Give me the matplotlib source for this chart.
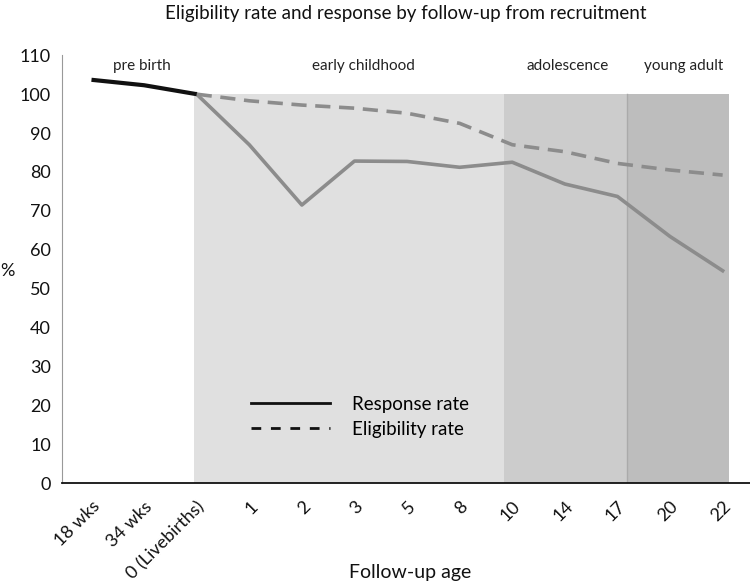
import numpy as np
import matplotlib.pyplot as plt
from matplotlib.lines import Line2D

plt.rcParams["font.family"] = ["Lato", "DejaVu Sans"]

ages = ["18 wks", "34 wks", "0 (Livebirths)", "1", "2", "3", "5", "8",
        "10", "14", "17", "20", "22"]
prebirth_response = [103.7, 102.3, 100.0]
response = [100.0, 87.0, 71.5, 82.8, 82.7, 81.2, 82.5, 76.9, 73.7, 63.4, 54.6]
eligibility = [100.0, 98.3, 97.2, 96.4, 95.1, 92.5, 87.0, 85.2, 82.2, 80.5, 79.2]

phases = ["pre birth", "early childhood", "adolescence", "young adult"]
phase_bounds = [-0.56, 1.95, 7.84, 10.19, 12.12]
phase_colors = [None, "#e0e0e0", "#cccccc", "#bdbdbd"]

x = np.arange(len(ages))

fig = plt.figure(figsize=(7.5, 5.82), dpi=100)
ax = fig.add_axes([0.0827, 0.170, 0.9173, 0.735])

label_x = [0.96, 5.18, 9.06, 11.25]
for i, name in enumerate(phases):
    lo, hi = phase_bounds[i], phase_bounds[i + 1]
    if phase_colors[i] is not None:
        ax.fill_between([lo, hi], 0, 100, color=phase_colors[i], lw=0, zorder=0)
    ax.text(label_x[i], 107.3, name, ha="center", va="center", fontsize=11, color="#222222")
ax.plot([phase_bounds[3]] * 2, [0, 100], color="#aaaaaa", lw=1, zorder=1)

ax.plot(x[:3], prebirth_response, color="#111111", lw=3, solid_capstyle="butt", zorder=3)
ax.plot(x[2:], response, color="#8c8c8c", lw=2.6, zorder=2)
ax.plot(x[2:], eligibility, color="#8c8c8c", lw=2.6, dashes=(4.2, 2.4), zorder=2)

ax.set_xlim(-0.56, 12.52)
ax.set_ylim(0, 110)
ax.set_yticks(np.arange(0, 111, 10))
ax.set_xticks(x)
ax.set_xticklabels(ages, rotation=45, ha="right", rotation_mode="anchor")
ax.tick_params(axis="both", length=0, labelsize=13, colors="#111111")
ax.tick_params(axis="x", pad=11)
ax.tick_params(axis="y", pad=8)

for side in ["top", "right"]:
    ax.spines[side].set_visible(False)
ax.spines["left"].set_color("#999999")
ax.spines["left"].set_linewidth(0.8)
ax.spines["bottom"].set_color("#111111")
ax.spines["bottom"].set_linewidth(1.3)

ax.set_title("Eligibility rate and response by follow-up from recruitment",
             fontsize=13.5, color="#111111", pad=26)
ax.set_xlabel("Follow-up age", fontsize=14, color="#111111", va="center")
ax.xaxis.set_label_coords(0.506, -0.208)
ax.set_ylabel("%", fontsize=13, rotation=0, color="#111111", va="center", ha="left")
ax.yaxis.set_label_coords(-0.09, 0.495)

handles = [Line2D([], [], color="#111111", lw=2),
           Line2D([], [], color="#111111", lw=2, dashes=(3.5, 3.5))]
ax.legend(handles, ["Response rate", "Eligibility rate"], loc="center left",
          bbox_to_anchor=(0.25, 0.155), frameon=False, fontsize=13.5,
          handlelength=4.2, handletextpad=1.2, labelspacing=0.4)

fig.savefig("out.png", dpi=100)
